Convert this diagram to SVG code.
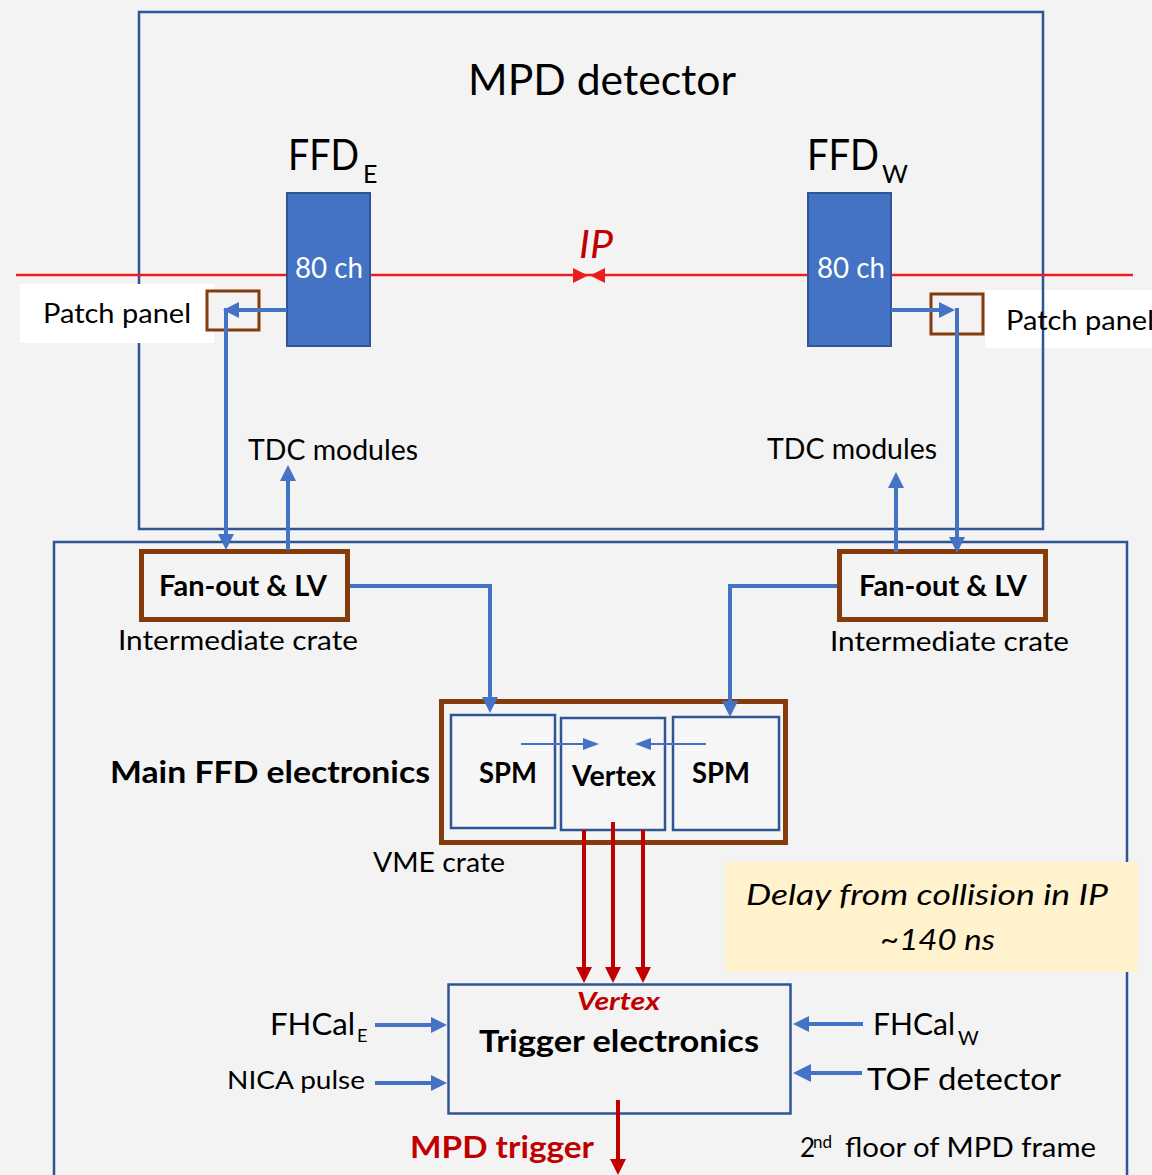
<svg xmlns="http://www.w3.org/2000/svg" width="1152" height="1175" viewBox="0 0 1152 1175">
<defs>
<style>
text{font-family:Lato,"Open Sans","Liberation Sans",sans-serif;fill:#000}
.b{font-weight:700}
.i{font-style:italic}
.red{fill:#C00000}
.wt{fill:#FFFFFF}
.frame{fill:none;stroke:#2F5597;stroke-width:2.5}
.brown{fill:#F4F4F4;stroke:#843C0C;stroke-width:5}
.pbox{fill:#F3F3F3;stroke:#843C0C;stroke-width:3}
.mod{fill:#F6F6F6;stroke:#2F5597;stroke-width:2.5}
.det{fill:#4472C4;stroke:#2F5597;stroke-width:2}
.blue{fill:none;stroke:#4472C4;stroke-width:4}
.thin{fill:none;stroke:#4472C4;stroke-width:2}
.rd{fill:none;stroke:#C00000;stroke-width:4}
</style>
<marker id="ab" markerUnits="userSpaceOnUse" markerWidth="16" markerHeight="16" viewBox="0 0 16 16" refX="2" refY="8" orient="auto"><path d="M0,0L16,8L0,16z" fill="#4472C4"/></marker>
<marker id="abt" markerUnits="userSpaceOnUse" markerWidth="18" markerHeight="18" viewBox="0 0 18 18" refX="2" refY="9" orient="auto"><path d="M0,0L18,9L0,18z" fill="#4472C4"/></marker>
<marker id="as" markerUnits="userSpaceOnUse" markerWidth="16" markerHeight="14" viewBox="0 0 16 14" refX="2" refY="7" orient="auto"><path d="M0,1L16,7L0,13z" fill="#4472C4"/></marker>
<marker id="ar" markerUnits="userSpaceOnUse" markerWidth="16" markerHeight="16" viewBox="0 0 16 16" refX="2" refY="8" orient="auto"><path d="M0,0L16,8L0,16z" fill="#C00000"/></marker>
</defs>

<rect x="0" y="0" width="1152" height="1175" fill="#F3F3F3"/>

<g id="patch-bg-right"><rect x="985" y="290" width="167" height="58" fill="#FFFFFF"/></g>

<g id="mpd-detector">
<rect class="frame" x="139" y="12" width="904" height="517"/>
<text x="468" y="95" font-size="42" textLength="268" lengthAdjust="spacingAndGlyphs">MPD detector</text>
</g>

<g id="floor-frame">
<rect class="frame" x="54" y="542" width="1073" height="640"/>
</g>

<g id="patch-bg-left"><rect x="20" y="284" width="194" height="59" fill="#FFFFFF"/></g>

<g id="beam-line">
<line x1="16" y1="275" x2="1133" y2="275" stroke="#EE1C1C" stroke-width="2.5"/>
<polygon points="573,268 588,275.5 573,283" fill="#EE1C1C"/>
<polygon points="605,268 590,275.5 605,283" fill="#EE1C1C"/>
<text class="i red" x="579" y="258" font-size="39" textLength="34" lengthAdjust="spacingAndGlyphs">IP</text>
</g>

<g id="ffd-e">
<text x="288" y="170" font-size="42"><tspan textLength="71" lengthAdjust="spacingAndGlyphs">FFD</tspan><tspan x="363" y="183" font-size="25">E</tspan></text>
<rect class="det" x="287" y="193" width="83" height="153"/>
<text class="wt" x="295" y="278" font-size="28" textLength="68" lengthAdjust="spacingAndGlyphs">80 ch</text>
</g>

<g id="ffd-w">
<text x="807" y="170" font-size="42"><tspan textLength="72" lengthAdjust="spacingAndGlyphs">FFD</tspan><tspan x="882" y="183" font-size="25">W</tspan></text>
<rect class="det" x="808" y="193" width="83" height="153"/>
<text class="wt" x="817" y="278" font-size="28" textLength="68" lengthAdjust="spacingAndGlyphs">80 ch</text>
</g>

<g id="patch-panel-e">
<rect class="pbox" x="207" y="291" width="52" height="39"/>
<text x="43" y="323" font-size="27" textLength="148" lengthAdjust="spacingAndGlyphs">Patch panel</text>
</g>

<g id="patch-panel-w">
<rect class="pbox" x="931" y="294" width="52" height="40"/>
<text x="1006" y="330" font-size="27" textLength="148" lengthAdjust="spacingAndGlyphs">Patch panel</text>
</g>

<g id="tdc-e"><text x="248" y="460" font-size="28" textLength="170" lengthAdjust="spacingAndGlyphs">TDC modules</text></g>
<g id="tdc-w"><text x="767" y="459" font-size="28" textLength="170" lengthAdjust="spacingAndGlyphs">TDC modules</text></g>

<g id="fanout-e">
<rect class="brown" x="141.5" y="551.5" width="206" height="68"/>
<text class="b" x="159" y="596" font-size="28" textLength="168" lengthAdjust="spacingAndGlyphs">Fan-out &amp; LV</text>
<text x="118" y="650" font-size="26" textLength="240" lengthAdjust="spacingAndGlyphs">Intermediate crate</text>
</g>

<g id="fanout-w">
<rect class="brown" x="839.5" y="551.5" width="206" height="68"/>
<text class="b" x="859" y="596" font-size="28" textLength="168" lengthAdjust="spacingAndGlyphs">Fan-out &amp; LV</text>
<text x="830" y="651" font-size="26" textLength="239" lengthAdjust="spacingAndGlyphs">Intermediate crate</text>
</g>

<g id="vme-crate">
<rect class="brown" x="441.5" y="701.5" width="344" height="141"/>
<text class="b" x="110" y="783" font-size="30" textLength="320" lengthAdjust="spacingAndGlyphs">Main FFD electronics</text>
<text x="373" y="872" font-size="26" textLength="132" lengthAdjust="spacingAndGlyphs">VME crate</text>
</g>

<g id="spm-e">
<rect class="mod" x="451" y="715" width="104" height="113"/>
<text class="b" x="479" y="783" font-size="29" textLength="58" lengthAdjust="spacingAndGlyphs">SPM</text>
</g>

<g id="vertex">
<rect class="mod" x="561" y="718" width="104" height="112"/>
<text class="b" x="572" y="786" font-size="29" textLength="84" lengthAdjust="spacingAndGlyphs">Vertex</text>
</g>

<g id="spm-w">
<rect class="mod" x="673" y="717" width="106" height="113"/>
<text class="b" x="692" y="783" font-size="29" textLength="58" lengthAdjust="spacingAndGlyphs">SPM</text>
</g>

<g id="delay-note">
<rect x="725" y="862" width="413" height="110" fill="#FFF2CC"/>
<text class="i" x="746" y="905" font-size="28" textLength="362" lengthAdjust="spacingAndGlyphs">Delay from collision in IP</text>
<text class="i" x="880" y="950" font-size="28" textLength="115" lengthAdjust="spacingAndGlyphs">~140 ns</text>
</g>

<g id="trigger">
<rect class="frame" x="448.5" y="984.5" width="342" height="129" stroke-width="3" fill="#F4F4F4"/>
<text class="b i red" x="577" y="1010" font-size="24" textLength="83" lengthAdjust="spacingAndGlyphs">Vertex</text>
<text class="b" x="479" y="1052" font-size="30" textLength="280" lengthAdjust="spacingAndGlyphs">Trigger electronics</text>
</g>

<g id="fhcal-e">
<text x="270" y="1035" font-size="30"><tspan textLength="85" lengthAdjust="spacingAndGlyphs">FHCal</tspan><tspan x="357" y="1042" font-size="18">E</tspan></text>
</g>
<g id="nica"><text x="227" y="1089" font-size="25" textLength="138" lengthAdjust="spacingAndGlyphs">NICA pulse</text></g>
<g id="fhcal-w">
<text x="873" y="1035" font-size="31"><tspan textLength="82" lengthAdjust="spacingAndGlyphs">FHCal</tspan><tspan x="958" y="1045" font-size="20">W</tspan></text>
</g>
<g id="tof"><text x="867" y="1090" font-size="30" textLength="194" lengthAdjust="spacingAndGlyphs">TOF detector</text></g>
<g id="floor-label">
<text x="800" y="1157" font-size="26">2<tspan x="813" y="1148" font-size="17">nd</tspan><tspan x="845" y="1157" textLength="251" lengthAdjust="spacingAndGlyphs">floor of MPD frame</tspan></text>
</g>
<g id="mpd-trigger"><text class="b red" x="410" y="1158" font-size="30" textLength="184" lengthAdjust="spacingAndGlyphs">MPD trigger</text></g>

<g id="connectors">
<line class="blue" x1="287" y1="310" x2="237" y2="310" marker-end="url(#ab)"/>
<line class="blue" x1="226" y1="308" x2="226" y2="536" marker-end="url(#ab)"/>
<line class="blue" x1="288" y1="550" x2="288" y2="479" marker-end="url(#ab)"/>
<path class="blue" d="M350,586H490V699" marker-end="url(#ab)"/>
<line class="blue" x1="891" y1="310" x2="941" y2="310" marker-end="url(#ab)"/>
<line class="blue" x1="957" y1="308" x2="957" y2="539" marker-end="url(#ab)"/>
<line class="blue" x1="896" y1="552" x2="896" y2="486" marker-end="url(#ab)"/>
<path class="blue" d="M837,586H730V703" marker-end="url(#ab)"/>
<line class="thin" x1="521" y1="744" x2="585" y2="744" marker-end="url(#as)"/>
<line class="thin" x1="706" y1="744" x2="649" y2="744" marker-end="url(#as)"/>
<line class="rd" x1="584" y1="830" x2="584" y2="969" marker-end="url(#ar)"/>
<line class="rd" x1="613" y1="822" x2="613" y2="969" marker-end="url(#ar)"/>
<line class="rd" x1="643" y1="830" x2="643" y2="969" marker-end="url(#ar)"/>
<line class="rd" x1="618" y1="1100" x2="618" y2="1161" marker-end="url(#ar)"/>
<line class="blue" x1="375" y1="1025" x2="433" y2="1025" marker-end="url(#ab)"/>
<line class="blue" x1="375" y1="1083" x2="433" y2="1083" marker-end="url(#ab)"/>
<line class="blue" x1="863" y1="1024" x2="807" y2="1024" marker-end="url(#ab)"/>
<line class="blue" x1="862" y1="1073" x2="809" y2="1073" stroke-width="5" marker-end="url(#abt)"/>
</g>
</svg>
